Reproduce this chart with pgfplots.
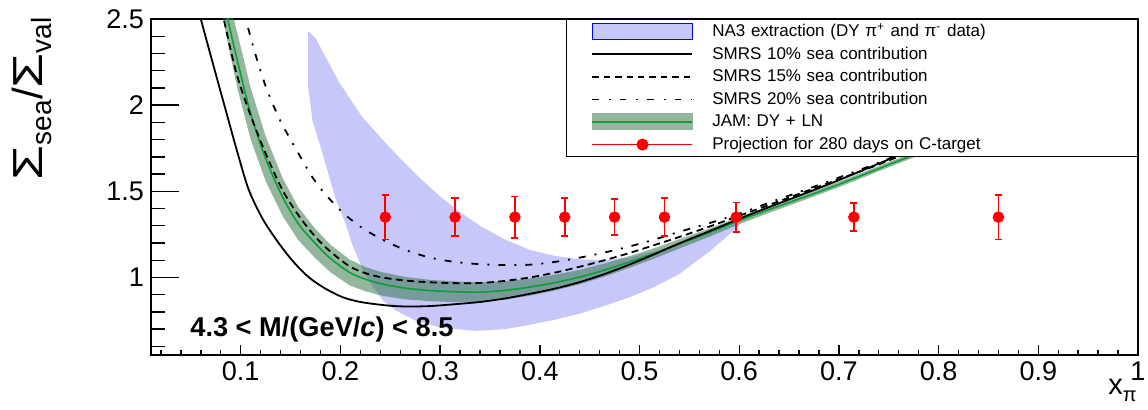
\documentclass[border=0pt]{standalone}
\usepackage{fontspec}
\setmainfont{Liberation Sans}
\usepackage{pgfplots}
\pgfplotsset{compat=1.18}
\definecolor{bandblue}{RGB}{199,199,250}
\definecolor{jamfill}{RGB}{40,110,60}
\definecolor{jamlegend}{RGB}{147,182,157}
\definecolor{jamline}{RGB}{10,160,55}

\begin{document}
\begin{tikzpicture}
\path[use as bounding box] (0pt,0pt) rectangle (574pt,205pt);
\begin{axis}[
  at={(75.5pt,27.5pt)}, anchor=south west, scale only axis,
  width=493.5pt, height=168pt,
  xmin=0.01, xmax=1, ymin=0.55, ymax=2.5,
  xtick={0.1,0.2,0.3,0.4,0.5,0.6,0.7,0.8,0.9,1},
  minor xtick={0.02,0.04,0.06,0.08,0.12,0.14,0.16,0.18,0.22,0.24,0.26,0.28,0.32,0.34,0.36,0.38,0.42,0.44,0.46,0.48,0.52,0.54,0.56,0.58,0.62,0.64,0.66,0.68,0.72,0.74,0.76,0.78,0.82,0.84,0.86,0.88,0.92,0.94,0.96,0.98},
  ytick=\empty,
  xtick pos=left, tick align=inside,
  major tick length=5pt, minor tick length=2.5pt,
  tick style={black, line width=0.7pt},
  axis line style={line width=0.8pt},
  tick label style={font=\fontsize{13.5}{16}\selectfont},
  /pgf/number format/assume math mode=true,
  legend cell align=left,
  legend style={at={(rel axis cs:1,1)}, anchor=north east, draw=black, line width=0.7pt,
    fill=white, inner xsep=12.5pt, inner ysep=0.3pt, row sep=0pt,
    font=\fontsize{8.5}{10}\selectfont,
    nodes={inner sep=0pt, text height=8.1pt, text depth=3.2pt, text width=200pt, align=left},
    /tikz/every odd column/.append style={column sep=9.5pt}},
]
% ---------- legend ----------
\addlegendimage{legend image code/.code={\draw[fill=bandblue, draw=blue, line width=0.6pt] (0pt,-3.9pt) rectangle (50pt,3.9pt);}}
\addlegendentry{NA3 extraction (DY π\textsuperscript{+} and π\textsuperscript{-} data)}
\addlegendimage{legend image code/.code={\draw[black, line width=0.8pt] (0pt,0pt) -- (50pt,0pt);}}
\addlegendentry{SMRS 10\% sea contribution}
\addlegendimage{legend image code/.code={\draw[black, line width=0.8pt, dash pattern=on 3.2pt off 2.5pt] (0pt,0pt) -- (50pt,0pt);}}
\addlegendentry{SMRS 15\% sea contribution}
\addlegendimage{legend image code/.code={\draw[black, line width=0.8pt, dash pattern=on 3.2pt off 5pt on 1pt off 4.5pt] (0pt,0pt) -- (50pt,0pt);}}
\addlegendentry{SMRS 20\% sea contribution}
\addlegendimage{legend image code/.code={\fill[jamlegend] (0pt,-3.9pt) rectangle (50pt,3.9pt); \draw[jamline, line width=0.8pt] (0pt,0pt) -- (50pt,0pt);}}
\addlegendentry{JAM: DY + LN}
\addlegendimage{legend image code/.code={\draw[red, line width=0.7pt] (0pt,0pt) -- (50pt,0pt); \fill[red] (25pt,0pt) circle (2.67pt);}}
\addlegendentry{Projection for 280 days on C-target}

% ---------- NA3 band (upper edge, then lower edge reversed) ----------
\addplot[fill=bandblue, draw=none, forget plot] coordinates {
(0.1675,2.43) (0.175,2.39) (0.185,2.28) (0.199,2.13) (0.222,1.93) (0.25,1.75) (0.28,1.575)
(0.30,1.47) (0.32,1.38) (0.34,1.30) (0.365,1.22) (0.39,1.16) (0.415,1.125) (0.44,1.105)
(0.465,1.10) (0.49,1.115) (0.52,1.16) (0.55,1.215) (0.575,1.265) (0.6,1.325)
(0.6,1.30) (0.57,1.15) (0.54,1.02) (0.515,0.945) (0.49,0.885) (0.465,0.835) (0.44,0.79)
(0.415,0.755) (0.39,0.725) (0.365,0.70) (0.335,0.69) (0.30,0.71) (0.275,0.75) (0.255,0.81)
(0.242,0.87) (0.225,1.01) (0.212,1.19) (0.204,1.33) (0.195,1.46) (0.182,1.72) (0.172,1.91)
(0.1675,2.11)};

% ---------- JAM band (upper edge, then lower edge reversed) ----------
\addplot[fill=jamfill, fill opacity=0.5, draw=none, forget plot] coordinates {
(0.080,2.87) (0.087,2.64) (0.097,2.41) (0.110,2.10) (0.125,1.82) (0.142,1.577) (0.158,1.405)
(0.175,1.281) (0.190,1.19) (0.209,1.105) (0.225,1.06) (0.242,1.03) (0.265,1.003) (0.290,0.986)
(0.315,0.977) (0.340,0.972) (0.365,0.978) (0.390,0.994) (0.415,1.016) (0.440,1.044) (0.465,1.081)
(0.490,1.124) (0.515,1.17) (0.540,1.222) (0.570,1.284) (0.600,1.351) (0.633,1.419) (0.667,1.487)
(0.700,1.556) (0.735,1.635) (0.770,1.715) (0.820,1.825)
(0.820,1.795) (0.770,1.685) (0.735,1.605) (0.700,1.524) (0.667,1.453) (0.633,1.381) (0.600,1.309)
(0.570,1.236) (0.540,1.168) (0.515,1.11) (0.490,1.056) (0.465,1.005) (0.440,0.96) (0.415,0.924)
(0.390,0.894) (0.365,0.872) (0.340,0.858) (0.315,0.857) (0.290,0.862) (0.265,0.873) (0.242,0.894)
(0.225,0.92) (0.209,0.955) (0.190,1.03) (0.175,1.111) (0.158,1.215) (0.142,1.357) (0.125,1.56)
(0.110,1.80) (0.097,2.09) (0.087,2.36) (0.080,2.57)};

% ---------- JAM central ----------
\addplot[jamline, line width=0.8pt, smooth, forget plot] coordinates {
(0.080,2.72) (0.087,2.50) (0.097,2.25) (0.110,1.95) (0.125,1.69) (0.142,1.467) (0.158,1.31)
(0.175,1.196) (0.190,1.11) (0.209,1.03) (0.225,0.99) (0.242,0.962) (0.265,0.938) (0.290,0.924)
(0.315,0.917) (0.340,0.915) (0.365,0.925) (0.390,0.944) (0.415,0.97) (0.440,1.002) (0.465,1.043)
(0.490,1.09) (0.515,1.14) (0.540,1.195) (0.570,1.26) (0.600,1.33) (0.633,1.40) (0.667,1.47)
(0.700,1.54) (0.735,1.62) (0.770,1.70) (0.820,1.81)};

% ---------- SMRS 10% ----------
\addplot[black, line width=0.9pt, smooth, forget plot] coordinates {
(0.055,2.62) (0.060,2.5) (0.0665,2.36) (0.075,2.18) (0.085,1.97) (0.096,1.74) (0.108,1.51)
(0.122,1.34) (0.138,1.20) (0.153,1.09) (0.1685,1.00) (0.185,0.935) (0.202,0.886) (0.218,0.86)
(0.235,0.845) (0.252,0.835) (0.269,0.831) (0.29,0.834) (0.309,0.842) (0.339,0.857) (0.365,0.878)
(0.39,0.905) (0.415,0.935) (0.44,0.973) (0.465,1.02) (0.49,1.075) (0.515,1.135) (0.54,1.198)
(0.57,1.268) (0.6,1.34) (0.633,1.415) (0.667,1.49) (0.7,1.565) (0.754,1.695) (0.8,1.81)};

% ---------- SMRS 15% ----------
\addplot[black, line width=0.9pt, smooth, dash pattern=on 3.5pt off 2.2pt, forget plot] coordinates {
(0.079,2.62) (0.083,2.5) (0.095,2.2) (0.108,1.97) (0.125,1.72) (0.142,1.506) (0.158,1.36)
(0.175,1.235) (0.19,1.15) (0.209,1.065) (0.225,1.025) (0.242,1.0) (0.265,0.982) (0.29,0.972)
(0.315,0.967) (0.34,0.968) (0.365,0.98) (0.39,1.0) (0.415,1.028) (0.44,1.062) (0.465,1.10)
(0.49,1.142) (0.515,1.188) (0.54,1.235) (0.57,1.295) (0.6,1.358) (0.633,1.427) (0.667,1.50)
(0.7,1.57) (0.735,1.645) (0.77,1.725) (0.82,1.84)};

% ---------- SMRS 20% ----------
\addplot[black, line width=0.9pt, smooth, dash pattern=on 3.5pt off 4.5pt on 1pt off 4.5pt, forget plot] coordinates {
(0.101,2.6) (0.105,2.5) (0.115,2.29) (0.125,2.11) (0.138,1.93) (0.152,1.78) (0.175,1.555)
(0.199,1.395) (0.22,1.295) (0.242,1.22) (0.265,1.16) (0.29,1.115) (0.315,1.09) (0.34,1.077)
(0.365,1.072) (0.39,1.074) (0.415,1.09) (0.44,1.115) (0.465,1.145) (0.49,1.18) (0.515,1.22)
(0.54,1.265) (0.57,1.315) (0.6,1.37) (0.633,1.44) (0.667,1.51) (0.7,1.58) (0.735,1.655)
(0.77,1.735) (0.82,1.85)};

% ---------- projection ----------
\addplot[red, only marks, mark=*, mark size=2.67pt, mark options={fill=red, draw=red}, forget plot,
  error bars/.cd, y dir=both, y explicit,
  error bar style={red, line width=0.9pt},
  error mark options={rotate=90, red, line width=0.9pt, mark size=1.8pt}] coordinates {
(0.245,1.35) +- (0,0.13)
(0.315,1.35) +- (0,0.11)
(0.375,1.35) +- (0,0.12)
(0.425,1.35) +- (0,0.11)
(0.475,1.35) +- (0,0.105)
(0.525,1.35) +- (0,0.11)
(0.597,1.35) +- (0,0.085)
(0.715,1.35) +- (0,0.08)
(0.860,1.35) +- (0,0.13)};
\end{axis}

% second axis: y ticks with their own length
\begin{axis}[
  at={(75.5pt,27.5pt)}, anchor=south west, scale only axis,
  width=493.5pt, height=168pt,
  xmin=0.01, xmax=1, ymin=0.55, ymax=2.5,
  xtick=\empty,
  ytick={1,1.5,2,2.5},
  minor ytick={0.6,0.7,0.8,0.9,1.1,1.2,1.3,1.4,1.6,1.7,1.8,1.9,2.1,2.2,2.3,2.4},
  ytick pos=left, tick align=inside,
  major tick length=14pt, minor tick length=7pt,
  tick style={black, line width=0.7pt},
  axis line style={draw=none},
  tick label style={font=\fontsize{13.5}{16}\selectfont},
  /pgf/number format/assume math mode=true,
]
\addplot[draw=none, forget plot] coordinates {(0.5,1.0)};
\end{axis}

% labels
\node[rotate=90, anchor=base east, inner sep=0pt] at (21pt,196.5pt)
  {\fontsize{21}{24}\selectfont\scalebox{1.35}[1]{Σ}\raisebox{-5pt}{\fontsize{14}{16}\selectfont sea}/\scalebox{1.35}[1]{Σ}\raisebox{-5pt}{\fontsize{14}{16}\selectfont val}};
\node[anchor=base east, inner sep=0pt] at (568.5pt,7.5pt)
  {\fontsize{14.5}{16}\selectfont x\raisebox{-3.5pt}{\fontsize{10}{12}\selectfont π}};
\node[anchor=base west, inner sep=0pt] at (95pt,36.5pt)
  {\fontsize{13.6}{16}\selectfont\bfseries 4.3 < M/(GeV/\textit{c}) < 8.5};
\end{tikzpicture}
\end{document}
